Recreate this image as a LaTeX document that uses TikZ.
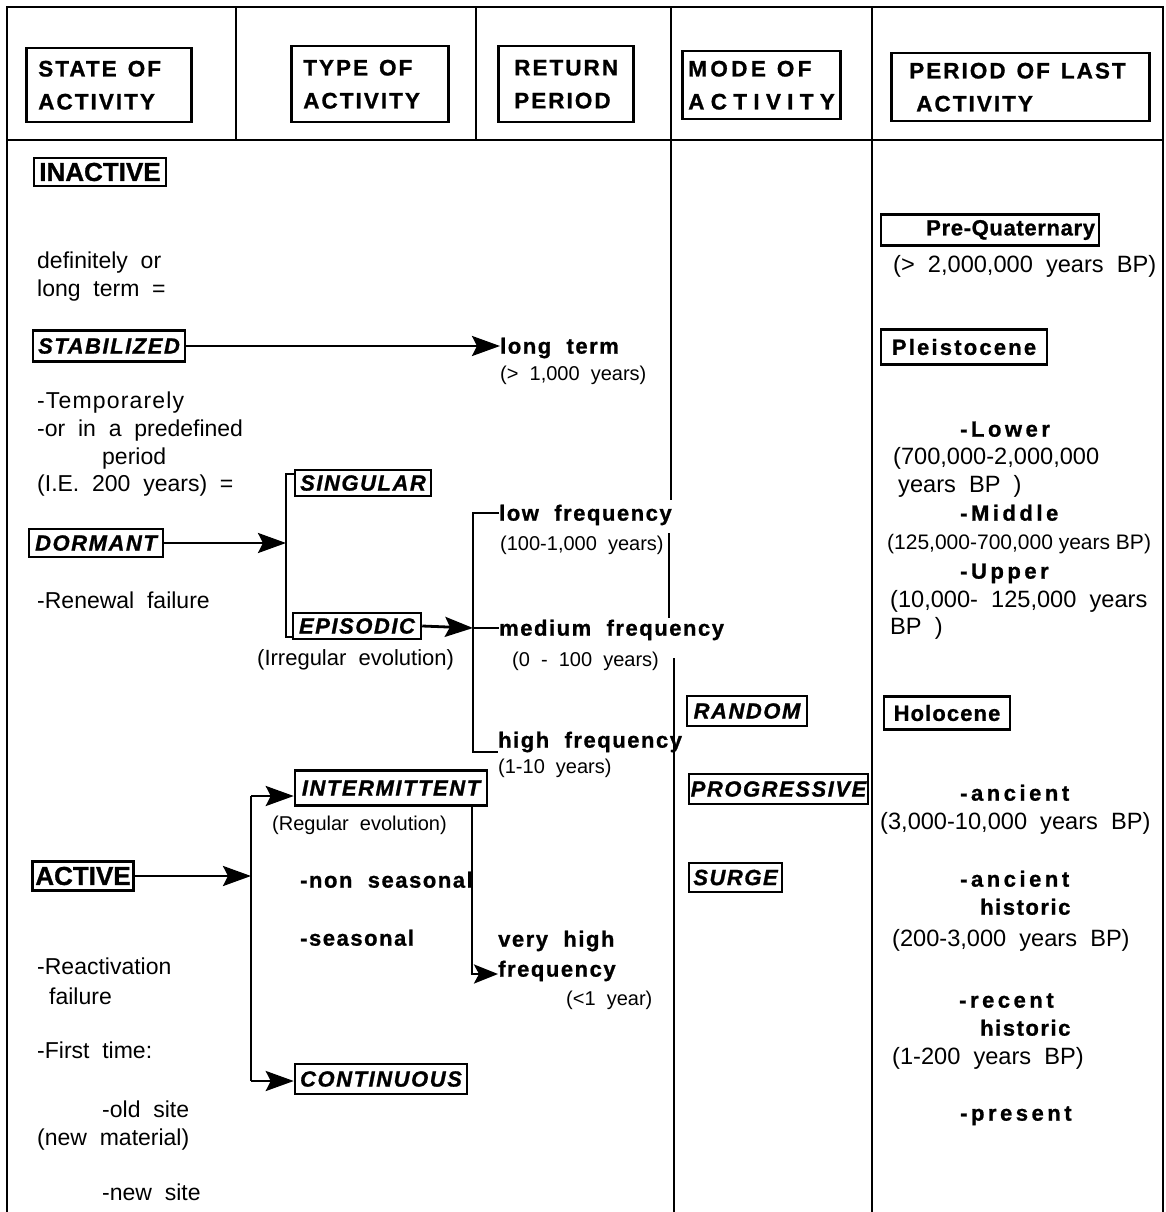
\documentclass[tikz,border=0pt]{standalone}
\usepackage{fontspec}
\setmainfont{Liberation Sans}[WordSpace=2]
\newfontfamily\plainfam{Liberation Sans}
\usetikzlibrary{arrows.meta}
\newcommand\myR{\fontsize{23}{28}\selectfont}
\newcommand\myRR{\fontsize{23.6}{28}\selectfont}
\newcommand\myS{\fontsize{20}{26}\selectfont}
\newcommand\myB{\fontsize{22}{28}\selectfont\bfseries\addfontfeatures{LetterSpace=7,FakeBold=1}}
\newcommand\myW{\fontsize{22}{28}\selectfont\bfseries\addfontfeatures{LetterSpace=16,FakeBold=1}}
\newcommand\myI{\fontsize{22}{26}\selectfont\bfseries\itshape\addfontfeatures{LetterSpace=7,FakeBold=1}}
\newcommand\myU{\fontsize{26}{30}\selectfont\bfseries\addfontfeatures{FakeBold=1}}
\newcommand\myH{\fontsize{22.5}{33}\selectfont\bfseries\addfontfeatures{LetterSpace=9,FakeBold=1}}
\newcommand\hgap{\hspace{11pt}}
\begin{document}
\begin{tikzpicture}[x=1pt,y=-1pt,
  frame/.style={line width=2.3pt},
  conn/.style={line width=2.8pt, line join=miter},
  arr/.style={conn, -{Stealth[length=28pt,width=20pt,inset=5pt]}},
  arrshort/.style={conn, -{Stealth[length=24pt,width=19pt,inset=5pt]}},
  ibox/.style={draw, line width=2.5pt, inner sep=0pt, font=\myI},
  ubox/.style={draw, line width=2.5pt, inner sep=0pt, font=\myU},
  bbox/.style={draw, line width=2.5pt, inner sep=0pt, font=\myB},
  hbox/.style={draw, line width=2.5pt, inner ysep=0pt, align=left, font=\myH, anchor=north west},
  tx/.style={anchor=mid west, inner sep=0pt, font=\myR, yshift=-6pt},
  txr/.style={tx, font=\myRR},
  txs/.style={tx, font=\myS},
  txb/.style={tx, font=\myB},
  txw/.style={tx, font=\myW},
]
\useasboundingbox (0,0) rectangle (1166,1212);
% ---- frame ----
\draw[frame] (7,1212) -- (7,7) -- (1163,7) -- (1163,1212);
\draw[frame] (7,140) -- (1163,140);
\draw[frame] (236,7) -- (236,140);
\draw[frame] (476,7) -- (476,140);
\draw[frame] (671,7) -- (671,500);
\draw[frame] (669,533) -- (669,618);
\draw[frame] (674,658) -- (674,1212);
\draw[frame] (872,7) -- (872,1212);
% ---- header ----
\node[hbox, text width=141pt, inner xsep=12pt, minimum height=74pt] (hS) at (25,47) {STATE\hgap OF\\ACTIVITY};
\node[hbox, text width=133pt, inner xsep=12pt, minimum height=76pt] (hT) at (290,45) {TYPE\hgap OF\\ACTIVITY};
\node[hbox, text width=103pt, inner xsep=16pt, minimum height=76pt] (hR) at (497,45) {RETURN\\PERIOD};
\node[hbox, text width=146pt, inner xsep=6pt, minimum height=68pt] (hM) at (681,50) {{\addfontfeatures{LetterSpace=15}MODE\hgap OF}\\{\addfontfeatures{LetterSpace=28}ACTIVITY}};
\node[hbox, text width=236pt, inner xsep=11pt, minimum height=68pt] (hP) at (890,52) {\hspace*{7pt}PERIOD\hgap OF\hgap LAST\\\hspace*{14pt}ACTIVITY};
% ---- state of activity column ----
\node[ubox, minimum width=132pt, minimum height=28pt] (inact) at (100,172) {INACTIVE};
\node[tx] (l1) at (37,260) {definitely or};
\node[tx] (l2) at (37,288) {long term =};
\node[ibox, minimum width=152pt, minimum height=31pt] (stab) at (109,346) {STABILIZED};
\node[tx, font=\myR\addfontfeatures{LetterSpace=5}] (l3) at (37,400) {-Temporarely};
\node[tx] (l4) at (37,428) {-or in a predefined};
\node[tx] (l5) at (102,456) {period};
\node[tx] (l6) at (37,483) {(I.E. 200 years) =};
\node[ibox, minimum width=134pt, minimum height=28pt] (dorm) at (96,543) {DORMANT};
\node[tx] (l7) at (37,600) {-Renewal failure};
\node[ubox, minimum width=101pt, minimum height=29pt] (act) at (83,876) {ACTIVE};
\node[tx] (l10) at (37,966) {-Reactivation};
\node[tx] (l11) at (49,996) {failure};
\node[tx] (l12) at (37,1050) {-First time:};
\node[tx] (l13) at (102,1109) {-old site};
\node[tx] (l14) at (37,1137) {(new material)};
\node[tx] (l15) at (102,1192) {-new site};
% ---- type of activity column ----
\node[ibox, minimum width=136pt, minimum height=26pt] (sing) at (363,483) {SINGULAR};
\node[ibox, minimum width=128pt, minimum height=26pt] (epi) at (357,626) {EPISODIC};
\node[tx, font=\fontsize{22}{26}\selectfont] (l8) at (257,657) {(Irregular evolution)};
\node[txs] (l9) at (272,822) {(Regular evolution)};
\node[txb] (nons) at (300,879) {-non seasonal};
\node[txb] (seas) at (300,937) {-seasonal};
\node[ibox, minimum width=192pt, minimum height=35pt] (inter) at (391,788) {INTERMITTENT};
\node[ibox, minimum width=172pt, minimum height=30pt] (cont) at (381,1079) {CONTINUOUS};
% ---- return period column ----
\node[txb] (lt) at (500,345) {long term};
\node[txs] (lty) at (500,372) {(> 1,000 years)};
\node[txb] (lowf) at (499,512) {low frequency};
\node[txs] (lowy) at (500,542) {(100-1,000 years)};
\node[txb] (medf) at (499,627) {medium frequency};
\node[txs] (medy) at (512,658) {(0 - 100 years)};
\node[txb] (highf) at (498,739) {high frequency};
\node[txs] (highy) at (498,765) {(1-10 years)};
\node[txb] (vh) at (498,938) {very high};
\node[txb] (fq) at (498,968) {frequency};
\node[txs] (fqy) at (566,997) {(<1 year)};
% ---- mode of activity column ----
\node[ibox, minimum width=120pt, minimum height=30pt] (rand) at (747,711) {RANDOM};
\node[ibox, minimum width=179pt, minimum height=30pt] (prog) at (778.5,789) {PROGRESSIVE};
\node[ibox, minimum width=93pt, minimum height=29pt] (surge) at (735.5,877.5) {SURGE};
% ---- period of last activity column ----
\node[bbox, font=\myB\addfontfeatures{LetterSpace=3}, minimum width=218pt, minimum height=31pt, text width=210pt, align=right] (preq) at (990,230) {Pre-Quaternary};
\node[txr] (pqy) at (893,264) {(> 2,000,000 years BP)};
\node[bbox, font=\myB\addfontfeatures{LetterSpace=10}, minimum width=166pt, minimum height=35pt] (pleis) at (964,347) {Pleistocene};
\node[txw] (lowr) at (960,428) {-Lower};
\node[txr] (lowa) at (893,456) {(700,000-2,000,000};
\node[txr] (lowb) at (898,484) {years BP )};
\node[txw] (midr) at (960,512) {-Middle};
\node[tx, font=\plainfam\fontsize{21}{25}\selectfont] (mida) at (887,541) {(125,000-700,000 years BP)};
\node[txw] (upr) at (960,570) {-Upper};
\node[txr] (upa) at (890,599) {(10,000- 125,000 years};
\node[txr] (upb) at (890,626) {BP )};
\node[bbox, font=\myB\addfontfeatures{LetterSpace=5}, minimum width=126pt, minimum height=33pt] (holo) at (947,713) {Holocene};
\node[txw] (anc) at (960,792) {-ancient};
\node[txr] (anca) at (880,821) {(3,000-10,000 years BP)};
\node[txw] (ah) at (960,878) {-ancient};
\node[txb] (ah2) at (980,906) {historic};
\node[txr] (aha) at (892,938) {(200-3,000 years BP)};
\node[txw] (rh) at (959,999) {-recent};
\node[txb] (rh2) at (980,1027) {historic};
\node[txr] (rha) at (892,1056) {(1-200 years BP)};
\node[txw] (pres) at (960,1112) {-present};
% ---- connectors ----
\draw[arr] (stab.east) -- (stab.east -| lt.west);
\coordinate (bLt) at (286,474);
\coordinate (bLb) at (286,637);
\draw[conn] (sing.west |- bLt) -- (bLt) -- (bLb) -- (epi.west |- bLb);
\draw[arr] (dorm.east) -- (dorm.east -| bLt);
\coordinate (rBt) at (473,513);
\coordinate (rBm) at (473,628);
\coordinate (rBb) at (473,752);
\draw[conn] (lowf.west |- rBt) -- (rBt) -- (rBb) -- (highf.west |- rBb);
\draw[arr] (epi.east) -- (rBm);
\draw[conn] (rBm) -- (medf.west |- rBm);
\coordinate (aBt) at (251,796);
\coordinate (aBb) at (251,1081);
\draw[arr] (act.east) -- (act.east -| aBt);
\draw[conn] (aBt) -- (aBb);
\draw[arr] (aBt) -- (aBt -| inter.west);
\draw[arr] (aBb) -- (aBb -| cont.west);
\coordinate (iB) at (472,974);
\draw[conn] (inter.south -| iB) -- ([yshift=-1.4pt]iB);
\draw[arrshort] ([xshift=-1.4pt]iB) -- (iB -| fq.west);
\end{tikzpicture}
\end{document}
